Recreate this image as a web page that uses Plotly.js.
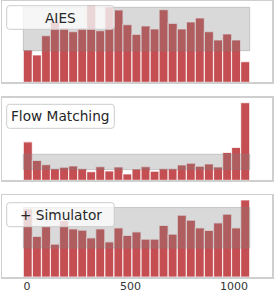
<!DOCTYPE html>
<html>
<head>
<meta charset="utf-8">
<script src="https://cdn.plot.ly/plotly-3.0.1.min.js"></script>
<style>html,body{margin:0;padding:0;background:#fff;}#chart{width:274px;height:292px;}</style>
</head>
<body>
<div id="chart"></div>
<script>
// ---- data ----
const binCenters = [4, 48, 92, 135, 179, 223, 267, 310, 354, 398, 442, 485, 529, 573, 617, 660, 704, 748, 792, 835, 879, 923, 967, 1010, 1054];
const aiesCounts = [32.3, 27.3, 46.7, 60.7, 54.3, 50.7, 54.3, 77.3, 51.7, 75.7, 72.3, 57.7, 48, 56.3, 53.3, 72.7, 59, 53.3, 60.3, 64.3, 50.7, 42.3, 48.3, 42.3, 20.7];
const flowCounts = [38.3, 19.7, 15.7, 11.7, 13, 14.3, 11.7, 8.7, 13.7, 9.3, 13.3, 6.3, 11.3, 13.7, 9, 11.7, 11.7, 15.3, 17, 14, 16.3, 13.3, 27.7, 32.7, 77.3];
const simCounts  = [68.3, 40.7, 50.7, 33, 56.6, 48.3, 47, 39.3, 48.3, 35.3, 49.3, 41.7, 45.3, 38, 38, 51.7, 43, 62, 57, 49.3, 46.7, 54.3, 63, 49.3, 77.3];
const bandLow  = [31.6, 10.7, 29];
const bandHigh = [75, 26, 69.7];
const panelLabels = ["AIES", "Flow Matching", "+ Simulator"];
const yMax = [80.8, 82.3, 82.3];
const tickVals = [0, 500, 1000];

// ---- layout helpers ----
const W = 274, H = 292;
const M = {l: 2, r: 2, t: 1, b: 15};
const pw = W - M.l - M.r, ph = H - M.t - M.b;
const px2x = p => (p - M.l) / pw;
const py2y = p => (H - M.b - p) / ph;
const binWidth = 43.75;

const series = [aiesCounts, flowCounts, simCounts];
const domains = [[0.7054, 0.9982], [0.3504, 0.6496], [0, 0.2971]];
const boxes = [[6.7, 5.7, 114.3, 29.3], [6.7, 104.3, 114.3, 128.3], [6.7, 202.7, 114.3, 226.7]];

function roundRect(x0p, y0p, x1p, y1p, r) {
  const X = px2x, Y = py2y;
  return `M${X(x0p + r)},${Y(y0p)} L${X(x1p - r)},${Y(y0p)} Q${X(x1p)},${Y(y0p)} ${X(x1p)},${Y(y0p + r)} ` +
         `L${X(x1p)},${Y(y1p - r)} Q${X(x1p)},${Y(y1p)} ${X(x1p - r)},${Y(y1p)} ` +
         `L${X(x0p + r)},${Y(y1p)} Q${X(x0p)},${Y(y1p)} ${X(x0p)},${Y(y1p - r)} ` +
         `L${X(x0p)},${Y(y0p + r)} Q${X(x0p)},${Y(y0p)} ${X(x0p + r)},${Y(y0p)} Z`;
}

const traces = [];
const shapes = [];
const annotations = [];
const layout = {
  width: W, height: H,
  margin: M,
  paper_bgcolor: '#ffffff', plot_bgcolor: '#ffffff',
  showlegend: false,
  bargap: 0,
  font: {family: 'DejaVu Sans', color: '#333333'}
};

const xFirst = binCenters[0] - binWidth / 2;
const xLast = binCenters[binCenters.length - 1] + binWidth / 2;

series.forEach((vals, i) => {
  const n = i + 1;
  const xa = n === 1 ? 'x' : 'x' + n;
  const ya = n === 1 ? 'y' : 'y' + n;
  traces.push({
    type: 'bar', x: binCenters, y: vals, xaxis: xa, yaxis: ya,
    width: binWidth,
    marker: {color: '#c44e52', line: {color: 'rgba(255,255,255,0.75)', width: 1.2}},
    hoverinfo: 'skip'
  });
  layout['xaxis' + (n === 1 ? '' : n)] = {
    domain: [0, 1], anchor: ya, range: [-120.8, 1183.6],
    showgrid: false, zeroline: false,
    showline: true, mirror: true, linecolor: '#cfcfcf', linewidth: 1.5,
    tickvals: tickVals, ticktext: tickVals.map(String),
    showticklabels: n === 3,
    ticks: '', ticklabelstandoff: -2,
    tickfont: {family: 'DejaVu Sans', size: 11, color: '#333333'}
  };
  layout['yaxis' + (n === 1 ? '' : n)] = {
    domain: domains[i], anchor: xa, range: [0, yMax[i]],
    showgrid: false, zeroline: false, showticklabels: false, ticks: '',
    showline: true, mirror: true, linecolor: '#cfcfcf', linewidth: 1.5
  };
  shapes.push({
    type: 'rect', xref: xa, yref: ya, layer: 'above',
    x0: xFirst, x1: xLast, y0: bandLow[i], y1: bandHigh[i],
    fillcolor: 'rgba(128,128,128,0.3)',
    line: {color: 'rgba(128,128,128,0.35)', width: 1}
  });
  const b = boxes[i];
  shapes.push({
    type: 'path', xref: 'paper', yref: 'paper', layer: 'above',
    path: roundRect(b[0], b[1], b[2], b[3], 3),
    fillcolor: 'rgba(255,255,255,0.75)',
    line: {color: '#cccccc', width: 1}
  });
  annotations.push({
    xref: 'paper', yref: 'paper',
    x: px2x((b[0] + b[2]) / 2), y: py2y((b[1] + b[3]) / 2),
    xanchor: 'center', yanchor: 'middle', showarrow: false,
    text: panelLabels[i],
    font: {family: 'DejaVu Sans', size: 13.7, color: '#262626'}
  });
});

layout.shapes = shapes;
layout.annotations = annotations;

Plotly.newPlot('chart', traces, layout, {displayModeBar: false, staticPlot: true});
</script>
</body>
</html>
